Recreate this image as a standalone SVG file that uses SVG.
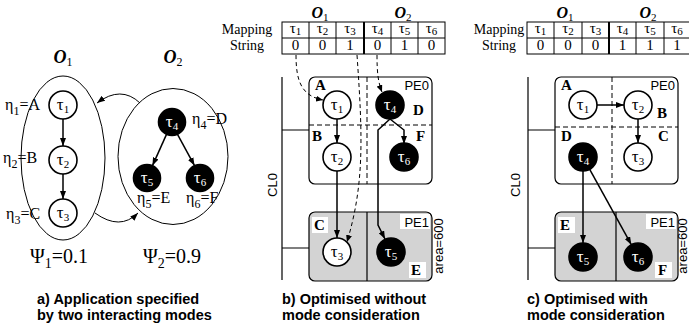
<svg xmlns="http://www.w3.org/2000/svg" width="689" height="333" viewBox="0 0 689 333">
<style>
.serif{font-family:"Liberation Serif","Times New Roman",serif}
.sans{font-family:"Liberation Sans",Arial,sans-serif}
.wn{fill:#fff;stroke:#000;stroke-width:1.6}
.bn{fill:#000;stroke:#000;stroke-width:1.6}
.tau{font-family:"Liberation Serif","Times New Roman",serif;font-size:17px;text-anchor:middle}
.tw{fill:#fff}
.mode{fill:none;stroke:#000;stroke-width:1}
.edge{fill:none;stroke:#000;stroke-width:1.5}
.map{fill:none;stroke:#000;stroke-width:1;stroke-dasharray:4 3}
.sep{fill:none;stroke:#000;stroke-width:1;stroke-dasharray:5 3}
.pe0{fill:#fff;stroke:#000;stroke-width:1.2}
.pe1{fill:#d3d3d3;stroke:#000;stroke-width:1.2}
.ln{fill:none;stroke:#000;stroke-width:1.2}
.lbl{font-family:"Liberation Serif","Times New Roman",serif;font-weight:bold;font-size:15px}
.pe{font-family:"Liberation Sans",Arial,sans-serif;font-size:13px}
.cap{font-family:"Liberation Sans",Arial,sans-serif;font-weight:bold;font-size:14.5px}
.tbl{fill:none;stroke:#000;stroke-width:1}
.cell{font-family:"Liberation Serif","Times New Roman",serif;font-size:15px;text-anchor:middle}
.hdr{font-family:"Liberation Serif","Times New Roman",serif;font-size:14px;text-anchor:middle}
.om{font-family:"Liberation Serif","Times New Roman",serif;font-weight:bold;font-style:italic;text-anchor:middle}
.eta{font-family:"Liberation Serif","Times New Roman",serif;font-size:16px}
.psi{font-family:"Liberation Serif","Times New Roman",serif;font-size:20px}
.bg{fill:#fff;stroke:none}
</style>
<defs>
<marker id="ah" markerWidth="8" markerHeight="6" refX="8" refY="3" orient="auto" markerUnits="userSpaceOnUse">
<path d="M0,0 L8,3 L0,6 z" fill="#000"/>
</marker>
<marker id="ahs" markerWidth="7" markerHeight="6" refX="7" refY="3" orient="auto" markerUnits="userSpaceOnUse">
<path d="M0,0 L7,3 L0,6 z" fill="#000"/>
</marker>
</defs>

<!-- ===== a) application with two modes ===== -->
<g id="panel-a">
<text class="om" x="63" y="63" font-size="18">O<tspan font-weight="normal" font-style="normal" font-size="12" dy="3">1</tspan></text>
<text class="om" x="173" y="63" font-size="18">O<tspan font-weight="normal" font-style="normal" font-size="12" dy="3">2</tspan></text>
<g id="mode-o1"><ellipse class="mode" cx="63" cy="158" rx="42" ry="82"/></g>
<g id="mode-o2"><ellipse class="mode" cx="173" cy="156.5" rx="55" ry="68"/></g>

<g id="a-t1"><circle class="wn" cx="63" cy="105" r="14"/><text class="tau" x="63" y="110">τ<tspan font-size="11" dy="3">1</tspan></text></g>
<g id="a-t2"><circle class="wn" cx="63" cy="160" r="14"/><text class="tau" x="63" y="165">τ<tspan font-size="11" dy="3">2</tspan></text></g>
<g id="a-t3"><circle class="wn" cx="63" cy="213" r="14"/><text class="tau" x="63" y="218">τ<tspan font-size="11" dy="3">3</tspan></text></g>
<g id="a-t4"><circle class="bn" cx="172" cy="122" r="13.5"/><text class="tau tw" x="172" y="127">τ<tspan font-size="11" dy="3">4</tspan></text></g>
<g id="a-t5"><circle class="bn" cx="147" cy="178" r="13.5"/><text class="tau tw" x="147" y="183">τ<tspan font-size="11" dy="3">5</tspan></text></g>
<g id="a-t6"><circle class="bn" cx="200" cy="178" r="13.5"/><text class="tau tw" x="200" y="183">τ<tspan font-size="11" dy="3">6</tspan></text></g>

<text class="eta" x="5" y="110">η<tspan font-size="12" dy="5">1</tspan><tspan dy="-5">=A</tspan></text>
<text class="eta" x="3" y="163">η<tspan font-size="12" dy="5">2</tspan><tspan dy="-5">=B</tspan></text>
<text class="eta" x="6" y="219">η<tspan font-size="12" dy="5">3</tspan><tspan dy="-5">=C</tspan></text>
<text class="eta" x="192" y="124">η<tspan font-size="12" dy="5">4</tspan><tspan dy="-5">=D</tspan></text>
<text class="eta" x="137" y="203">η<tspan font-size="12" dy="5">5</tspan><tspan dy="-5">=E</tspan></text>
<text class="eta" x="186" y="203">η<tspan font-size="12" dy="5">6</tspan><tspan dy="-5">=F</tspan></text>

<text class="psi" x="30" y="263">Ψ<tspan font-size="14" dy="5">1</tspan><tspan dy="-5">=0.1</tspan></text>
<text class="psi" x="143" y="263">Ψ<tspan font-size="14" dy="5">2</tspan><tspan dy="-5">=0.9</tspan></text>

<text class="cap" x="37" y="304">a) Application specified</text>
<text class="cap" x="37" y="320">by two interacting modes</text>
</g>

<!-- ===== b) mapping without mode consideration ===== -->
<g id="panel-b">
<text class="om" x="320" y="18" font-size="16">O<tspan font-weight="normal" font-style="normal" font-size="11" dy="3">1</tspan></text>
<text class="om" x="403" y="18" font-size="16">O<tspan font-weight="normal" font-style="normal" font-size="11" dy="3">2</tspan></text>
<g id="b-table">
<rect class="tbl" x="282" y="22" width="163" height="32"/>
<path class="tbl" d="M282,38 H445 M309,22 V54 M336,22 V54 M391,22 V54 M418,22 V54"/>
<path d="M364,22 V54" stroke="#000" stroke-width="2"/>
<text class="hdr" x="247" y="34">Mapping</text>
<text class="hdr" x="247" y="50">String</text>
<text class="cell" x="295.5" y="33">τ<tspan font-size="11" dy="2">1</tspan></text>
<text class="cell" x="322.5" y="33">τ<tspan font-size="11" dy="2">2</tspan></text>
<text class="cell" x="350" y="33">τ<tspan font-size="11" dy="2">3</tspan></text>
<text class="cell" x="377.5" y="33">τ<tspan font-size="11" dy="2">4</tspan></text>
<text class="cell" x="404.5" y="33">τ<tspan font-size="11" dy="2">5</tspan></text>
<text class="cell" x="431.5" y="33">τ<tspan font-size="11" dy="2">6</tspan></text>
<text class="cell" x="295.5" y="50" font-size="14">0</text>
<text class="cell" x="322.5" y="50" font-size="14">0</text>
<text class="cell" x="350" y="50" font-size="14">1</text>
<text class="cell" x="377.5" y="50" font-size="14">0</text>
<text class="cell" x="404.5" y="50" font-size="14">1</text>
<text class="cell" x="431.5" y="50" font-size="14">0</text>
</g>

<g id="b-cl0">
<path class="ln" d="M282,77 V280 M282,130 H309 M282,248 H309"/>
<text class="pe" transform="translate(277,185) rotate(-90)" text-anchor="middle">CL0</text>
</g>
<g id="b-pe0">
<rect class="pe0" x="309" y="77" width="123" height="107" rx="6"/>
<path class="sep" d="M309,125 H432 M367,77 V184"/>
<text class="pe" x="429" y="90" text-anchor="end">PE0</text>
<text class="lbl" x="315" y="90">A</text>
<text class="lbl" x="312" y="141">B</text>
<text class="lbl" x="413" y="115">D</text>
<text class="lbl" x="416" y="141">F</text>
</g>
<g id="b-pe1">
<rect class="pe1" x="309" y="212" width="123" height="69" rx="6"/>
<path class="ln" d="M367,212 V281"/>
<rect class="bg" x="312" y="217" width="16" height="16"/>
<rect class="bg" x="400" y="214" width="30" height="15"/>
<rect class="bg" x="409" y="262" width="17" height="16"/>
<text class="pe" x="429" y="227" text-anchor="end">PE1</text>
<text class="lbl" x="314" y="230">C</text>
<text class="lbl" x="411" y="275">E</text>
<text class="pe" font-size="12" transform="translate(443,246) rotate(-90)" text-anchor="middle">area=600</text>
</g>

<g id="b-connectors">
<path class="edge" d="M337,119 V143" marker-end="url(#ah)"/>
<path class="edge" d="M337,171 V238" marker-end="url(#ah)"/>
<path class="edge" d="M390,119 L404,130 V144" marker-end="url(#ah)"/>
<path class="edge" d="M390,119 L378,130 V225 L385,239" marker-end="url(#ah)"/>
<path class="map" d="M296,55 C296,82 302,96 323,100" marker-end="url(#ahs)"/>
<path class="map" d="M357,55 C363,140 364,185 347,242" marker-end="url(#ahs)"/>
<path class="map" d="M377,55 C377,72 378,82 382,92" marker-end="url(#ahs)"/>
</g>

<g id="b-t1"><circle class="wn" cx="337" cy="105" r="14"/><text class="tau" x="337" y="110">τ<tspan font-size="11" dy="3">1</tspan></text></g>
<g id="b-t2"><circle class="wn" cx="337" cy="157" r="14"/><text class="tau" x="337" y="162">τ<tspan font-size="11" dy="3">2</tspan></text></g>
<g id="b-t3"><circle class="wn" cx="337" cy="252" r="14"/><text class="tau" x="337" y="257">τ<tspan font-size="11" dy="3">3</tspan></text></g>
<g id="b-t4"><circle class="bn" cx="390" cy="105" r="14"/><text class="tau tw" x="390" y="110">τ<tspan font-size="11" dy="3">4</tspan></text></g>
<g id="b-t5"><circle class="bn" cx="391" cy="252" r="14"/><text class="tau tw" x="391" y="257">τ<tspan font-size="11" dy="3">5</tspan></text></g>
<g id="b-t6"><circle class="bn" cx="404" cy="157" r="14"/><text class="tau tw" x="404" y="162">τ<tspan font-size="11" dy="3">6</tspan></text></g>

<text class="cap" x="282" y="304">b) Optimised without</text>
<text class="cap" x="282" y="320">mode consideration</text>
</g>

<!-- ===== c) mapping with mode consideration ===== -->
<g id="panel-c">
<text class="om" x="565" y="18" font-size="16">O<tspan font-weight="normal" font-style="normal" font-size="11" dy="3">1</tspan></text>
<text class="om" x="648" y="18" font-size="16">O<tspan font-weight="normal" font-style="normal" font-size="11" dy="3">2</tspan></text>
<g id="c-table">
<rect class="tbl" x="527" y="22" width="163" height="32"/>
<path class="tbl" d="M527,38 H690 M554,22 V54 M582,22 V54 M636,22 V54 M664,22 V54"/>
<path d="M609,22 V54" stroke="#000" stroke-width="2"/>
<text class="hdr" x="499" y="34">Mapping</text>
<text class="hdr" x="499" y="50">String</text>
<text class="cell" x="540.5" y="33">τ<tspan font-size="11" dy="2">1</tspan></text>
<text class="cell" x="568" y="33">τ<tspan font-size="11" dy="2">2</tspan></text>
<text class="cell" x="595.5" y="33">τ<tspan font-size="11" dy="2">3</tspan></text>
<text class="cell" x="622.5" y="33">τ<tspan font-size="11" dy="2">4</tspan></text>
<text class="cell" x="650" y="33">τ<tspan font-size="11" dy="2">5</tspan></text>
<text class="cell" x="677" y="33">τ<tspan font-size="11" dy="2">6</tspan></text>
<text class="cell" x="540.5" y="50" font-size="14">0</text>
<text class="cell" x="568" y="50" font-size="14">0</text>
<text class="cell" x="595.5" y="50" font-size="14">0</text>
<text class="cell" x="622.5" y="50" font-size="14">1</text>
<text class="cell" x="650" y="50" font-size="14">1</text>
<text class="cell" x="677" y="50" font-size="14">1</text>
</g>

<g id="c-cl0">
<path class="ln" d="M528,77 V280 M528,130 H555 M528,248 H555"/>
<text class="pe" transform="translate(520,185) rotate(-90)" text-anchor="middle">CL0</text>
</g>
<g id="c-pe0">
<rect class="pe0" x="555" y="77" width="123" height="107" rx="6"/>
<path class="sep" d="M555,127 H678 M612,77 V184"/>
<text class="pe" x="675" y="90" text-anchor="end">PE0</text>
<text class="lbl" x="561" y="90">A</text>
<text class="lbl" x="657" y="118">B</text>
<text class="lbl" x="561" y="141">D</text>
<text class="lbl" x="658" y="141">C</text>
</g>
<g id="c-pe1">
<rect class="pe1" x="555" y="212" width="123" height="69" rx="6"/>
<path class="ln" d="M616,212 V281"/>
<rect class="bg" x="558" y="217" width="17" height="16"/>
<rect class="bg" x="646" y="214" width="30" height="15"/>
<rect class="bg" x="655" y="262" width="17" height="16"/>
<text class="pe" x="675" y="227" text-anchor="end">PE1</text>
<text class="lbl" x="560" y="230">E</text>
<text class="lbl" x="658" y="275">F</text>
<text class="pe" font-size="12" transform="translate(687,246) rotate(-90)" text-anchor="middle">area=600</text>
</g>

<g id="c-connectors">
<path class="edge" d="M597,105 H624" marker-end="url(#ah)"/>
<path class="edge" d="M638,119 V143" marker-end="url(#ah)"/>
<path class="edge" d="M583,171 V243" marker-end="url(#ah)"/>
<path class="edge" d="M589.7,169.3 L631.3,244.7" marker-end="url(#ah)"/>
</g>

<g id="c-t1"><circle class="wn" cx="583" cy="105" r="14"/><text class="tau" x="583" y="110">τ<tspan font-size="11" dy="3">1</tspan></text></g>
<g id="c-t2"><circle class="wn" cx="638" cy="105" r="14"/><text class="tau" x="638" y="110">τ<tspan font-size="11" dy="3">2</tspan></text></g>
<g id="c-t3"><circle class="wn" cx="638" cy="157" r="14"/><text class="tau" x="638" y="162">τ<tspan font-size="11" dy="3">3</tspan></text></g>
<g id="c-t4"><circle class="bn" cx="583" cy="157" r="14"/><text class="tau tw" x="583" y="162">τ<tspan font-size="11" dy="3">4</tspan></text></g>
<g id="c-t5"><circle class="bn" cx="583" cy="257" r="14"/><text class="tau tw" x="583" y="262">τ<tspan font-size="11" dy="3">5</tspan></text></g>
<g id="c-t6"><circle class="bn" cx="638" cy="257" r="14"/><text class="tau tw" x="638" y="262">τ<tspan font-size="11" dy="3">6</tspan></text></g>

<text class="cap" x="527" y="304">c) Optimised with</text>
<text class="cap" x="527" y="320">mode consideration</text>
</g>

<!-- mode transition arrows -->
<g id="a-connectors">
<path class="edge" d="M63,119 V146" marker-end="url(#ah)"/>
<path class="edge" d="M63,174 V199" marker-end="url(#ah)"/>
<path class="edge" d="M166.5,134.4 L152.5,165.6" marker-end="url(#ah)"/>
<path class="edge" d="M177.5,134.4 L194.5,165.6" marker-end="url(#ah)"/>
<path class="mode" d="M140,103 Q121,85 97,103" marker-end="url(#ah)"/>
<path class="mode" d="M95,213 Q120,231 138,213" marker-end="url(#ah)"/>
</g>
</svg>
